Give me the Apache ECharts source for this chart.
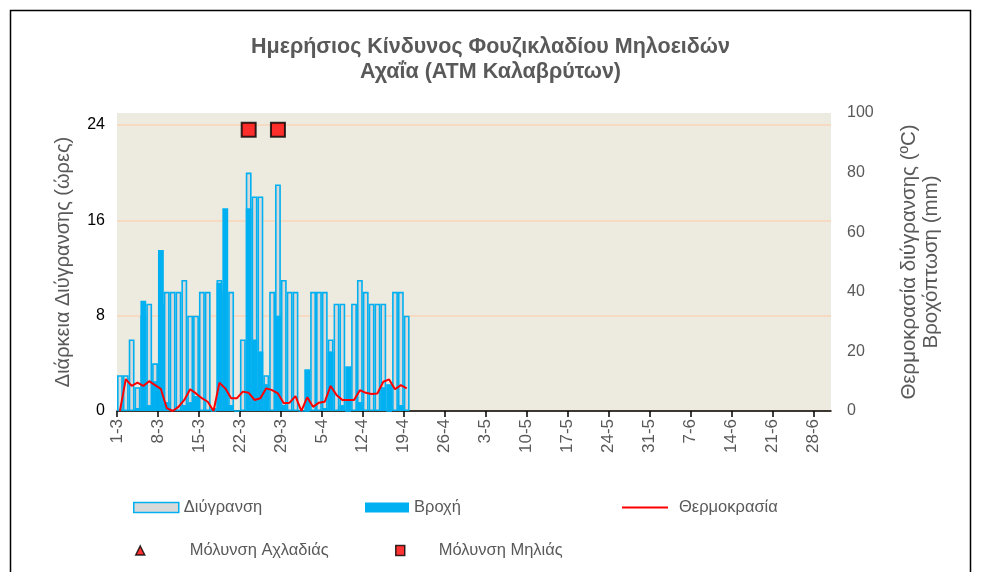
<!DOCTYPE html>
<html lang="el">
<head>
    <meta charset="UTF-8">
    <title>Ημερήσιος Κίνδυνος Φουζικλαδίου Μηλοειδών</title>
    <script src="https://cdn.jsdelivr.net/npm/echarts@6/dist/echarts.min.js"></script>
    <style>
        html, body { margin: 0; padding: 0; background: #fff; }
        .chart { width: 981px; height: 572px; }
    </style>
</head>
<body>
<div class="chart"></div>
<script>
    // ετικέτες άξονα x (μία ανά εβδομάδα, από 1-3)
    const tickLabels = ['1-3', '8-3', '15-3', '22-3', '29-3', '5-4', '12-4', '19-4', '26-4',
        '3-5', '10-5', '17-5', '24-5', '31-5', '7-6', '14-6', '21-6', '28-6'];
    const totalDays = 122;

    // ημερήσιες τιμές από 1-3 έως 19-4
    const wetness = [3, 3, 6, 2, 8, 9, 4, 9, 10, 10,
        10, 11, 8, 8, 10, 10, 0, 11, 10, 10,
        0, 6, 20, 18, 18, 3, 10, 19, 11, 10,
        10, 0, 0, 10, 10, 10, 6, 9, 9, 0,
        9, 11, 10, 9, 9, 9, 0, 10, 10, 8];
    const rain = [0, 0, 0, 1, 37, 2, 10, 54, 3, 0,
        0, 2, 3, 5, 0, 0, 1, 43, 68, 2,
        0, 0, 68, 24, 20, 9, 0, 32, 2, 0,
        0, 0, 14, 0, 0, 1, 20, 0, 2, 15,
        0, 3, 0, 0, 0, 8, 9, 0, 2, 0];
    const temperature = [0, 10.7, 8.4, 9.5, 8.4, 10, 8.7, 7.4, 1, 0,
        1.4, 3.7, 7.3, 5.9, 4.3, 3.1, 0, 9.5, 7.6, 4.3,
        4.3, 6.5, 6.1, 3.7, 4.3, 7.6, 7.0, 5.9, 2.6, 2.8,
        5.0, 0, 4.6, 1.4, 2.8, 3.1, 8.4, 5.4, 3.7, 3.7,
        3.7, 7.0, 6.1, 5.7, 5.9, 9.8, 10.6, 7.3, 8.7, 7.6];
    // μολύνσεις: [ημέρα, τιμή]
    const appleInfection = [[22, 23.6], [27, 23.6]];
    const pearInfection = [];

    const textColor = '#595959';
    const font = 'Liberation Sans';
    const toPoints = arr => arr.map((v, i) => [i + 0.5, v]);

    let chart = echarts.init(document.querySelector('.chart'));

    const legendBase = {
        orient: 'horizontal',
        itemGap: 0,
        selectedMode: false,
        textStyle: {color: textColor, fontSize: 16.5, fontFamily: font}
    };

    let option = {
        animation: false,
        backgroundColor: '#fff',
        title: {
            text: 'Ημερήσιος Κίνδυνος Φουζικλαδίου Μηλοειδών\nΑχαΐα (ΑΤΜ Καλαβρύτων)',
            left: 'center',
            top: 30,
            textStyle: {
                color: textColor,
                fontSize: 21.5,
                fontWeight: 'bold',
                fontFamily: font,
                lineHeight: 25
            }
        },
        graphic: [{
            type: 'rect',
            shape: {x: 10.5, y: 10.5, width: 960, height: 600},
            style: {fill: 'none', stroke: '#000', lineWidth: 1.5},
            silent: true
        }],
        legend: [
            Object.assign({}, legendBase, {
                left: 128, top: 494, itemWidth: 45, itemHeight: 10,
                data: [{name: 'Διύγρανση', icon: 'rect',
                    itemStyle: {color: '#D9D9D9', borderColor: '#00B0F0', borderWidth: 1.5}}]
            }),
            Object.assign({}, legendBase, {
                left: 360, top: 494, itemWidth: 44, itemHeight: 10,
                data: [{name: 'Βροχή', icon: 'rect', itemStyle: {color: '#00B0F0', borderWidth: 0}}]
            }),
            Object.assign({}, legendBase, {
                left: 617, top: 494, itemWidth: 46, itemHeight: 2,
                data: [{name: 'Θερμοκρασία', icon: 'rect', itemStyle: {color: '#FF0000', borderWidth: 0}}],
                textStyle: Object.assign({}, legendBase.textStyle, {padding: [0, 0, 0, 6]})
            }),
            Object.assign({}, legendBase, {
                left: 130, top: 537, itemWidth: 9, itemHeight: 9,
                data: [{name: 'Μόλυνση Αχλαδιάς', icon: 'triangle',
                    itemStyle: {color: '#FF0000', borderColor: '#000', borderWidth: 1.5}}],
                textStyle: Object.assign({}, legendBase.textStyle, {padding: [0, 0, 0, 40]})
            }),
            Object.assign({}, legendBase, {
                left: 390, top: 537, itemWidth: 9, itemHeight: 10,
                data: [{name: 'Μόλυνση Μηλιάς', icon: 'rect',
                    itemStyle: {color: '#FF0000', borderColor: '#000', borderWidth: 1.5}}],
                textStyle: Object.assign({}, legendBase.textStyle, {padding: [0, 0, 0, 29]})
            })
        ],
        grid: {
            left: 117,
            right: 150,
            top: 113,
            bottom: 161,
            show: true,
            backgroundColor: '#EDEAE0',
            borderWidth: 0
        },
        xAxis: {
            type: 'value',
            min: 0,
            max: totalDays,
            interval: 7,
            axisLine: {show: true, lineStyle: {color: '#000', width: 1.5}},
            axisTick: {show: true, length: 6, lineStyle: {color: '#000', width: 1.5}},
            splitLine: {show: false},
            axisLabel: {
                rotate: 90,
                margin: 8,
                color: textColor,
                fontSize: 17,
                fontFamily: font,
                showMaxLabel: false,
                formatter: v => (v % 7 === 0 ? tickLabels[v / 7] : '')
            }
        },
        yAxis: [
            {
                type: 'value',
                min: 0,
                max: 25,
                interval: 8,
                name: 'Διάρκεια Διύγρανσης (ώρες)',
                nameLocation: 'middle',
                nameRotate: 90,
                nameGap: 44,
                nameTextStyle: {color: textColor, fontSize: 20, fontFamily: font},
                axisLine: {show: false},
                axisTick: {show: false},
                axisLabel: {color: '#000', fontSize: 16, fontFamily: font, margin: 12, showMaxLabel: false},
                splitLine: {show: true, showMaxLine: false, lineStyle: {color: '#F9D6B8', width: 1.5}}
            },
            {
                type: 'value',
                min: 0,
                max: 100,
                interval: 20,
                position: 'right',
                name: 'Θερμοκρασία διύγρανσης (ºC)\nΒροχόπτωση (mm)',
                nameLocation: 'middle',
                nameRotate: 90,
                nameGap: 67,
                nameTextStyle: {color: textColor, fontSize: 20.5, fontFamily: font, lineHeight: 22},
                axisLine: {show: false},
                axisTick: {show: false},
                axisLabel: {color: textColor, fontSize: 16, fontFamily: font, margin: 16},
                splitLine: {show: false}
            }
        ],
        series: [
            {
                name: 'Διύγρανση',
                type: 'bar',
                yAxisIndex: 0,
                barWidth: 5.85,
                barGap: '-100%',
                itemStyle: {color: '#D9D9D9', borderColor: '#00B0F0', borderWidth: 1.6},
                data: toPoints(wetness)
            },
            {
                name: 'Βροχή',
                type: 'bar',
                yAxisIndex: 1,
                barWidth: 5.85,
                barGap: '-100%',
                itemStyle: {color: '#00B0F0'},
                data: toPoints(rain)
            },
            {
                name: 'Θερμοκρασία',
                type: 'line',
                yAxisIndex: 1,
                showSymbol: false,
                lineStyle: {color: '#FF0000', width: 2},
                itemStyle: {color: '#FF0000'},
                data: toPoints(temperature)
            },
            {
                name: 'Μόλυνση Αχλαδιάς',
                type: 'scatter',
                yAxisIndex: 0,
                symbol: 'triangle',
                symbolSize: 10,
                itemStyle: {color: '#FF0000', borderColor: '#000', borderWidth: 1.5},
                data: pearInfection.map(p => [p[0] + 0.5, p[1]])
            },
            {
                name: 'Μόλυνση Μηλιάς',
                type: 'scatter',
                yAxisIndex: 0,
                symbol: 'rect',
                symbolSize: 14,
                z: 5,
                itemStyle: {color: '#FF0000', borderColor: '#000', borderWidth: 2},
                data: appleInfection.map(p => [p[0] + 0.5, p[1]])
            }
        ]
    };

    chart.setOption(option);
</script>
</body>
</html>
